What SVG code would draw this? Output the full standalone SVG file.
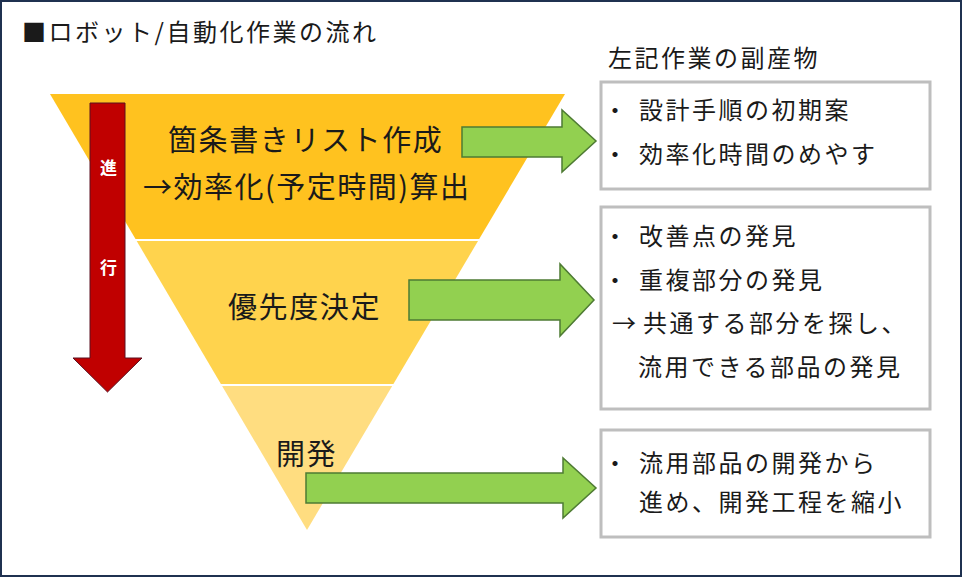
<svg xmlns="http://www.w3.org/2000/svg" width="962" height="577" viewBox="0 0 962 577">
<style>
.jp{font-family:"Noto Sans CJK JP","Noto Sans CJK SC",sans-serif;fill:#1a1a1a}
.t24{font-size:24px;letter-spacing:2.5px}
.t29{font-size:29px;letter-spacing:1.6px}
.box{fill:#fff;stroke:#BEBEBE;stroke-width:3}
.garrow{fill:#92D050;stroke:#4E7B33;stroke-width:1.5;stroke-linejoin:miter}
.wt{font-family:"Noto Sans CJK JP",sans-serif;font-size:17px;font-weight:bold;fill:#fff;text-anchor:middle}
</style>
<rect x="0" y="0" width="962" height="577" fill="#fff"/>
<rect x="1" y="1" width="960" height="575" fill="none" stroke="#1F3150" stroke-width="2"/>

<g id="title">
<text class="jp t24" x="22" y="41">■ロボット/自動化作業の流れ</text>
<text class="jp t24" x="608" y="67">左記作業の副産物</text>
</g>

<g id="band1">
<polygon points="50,94 565,94 479.2,239 135.5,239" fill="#FFC21F"/>
<text class="jp t29" x="168" y="151">箇条書きリスト作成</text>
<text class="jp" style="font-size:29px" x="143" y="198" textLength="326" lengthAdjust="spacing">→効率化(予定時間)算出</text>
</g>
<g id="band2">
<polygon points="136.7,241 478,241 393.4,384 220.9,384" fill="#FFD34D"/>
<text class="jp t29" x="228" y="318">優先度決定</text>
</g>
<g id="band3">
<polygon points="222.1,386 392.2,386 307,530" fill="#FFDD80"/>
<text class="jp t29" x="276" y="465">開発</text>
</g>

<g id="progress">
<polygon points="90,103 125,103 125,358 142,358 107.5,392 73,358 90,358" fill="#C00000" stroke="#5A1020" stroke-width="1"/>
<text class="wt" x="108.5" y="174">進</text>
<text class="wt" x="108.5" y="274">行</text>
</g>

<g id="connectors">
<polygon class="garrow" points="462,127 562,127 562,110 596,141 562,172 562,157 462,157"/>
<polygon class="garrow" points="409,280 560,280 560,264 594,300 560,336 560,320 409,320"/>
<polygon class="garrow" points="306,473 563,473 563,458 596,488 563,518 563,503 306,503"/>
</g>

<g id="box1">
<rect class="box" x="601" y="82" width="329" height="107"/>
<text class="jp t24" y="119"><tspan x="603">・</tspan><tspan x="639">設計手順の初期案</tspan></text>
<text class="jp t24" y="163"><tspan x="603">・</tspan><tspan x="639">効率化時間のめやす</tspan></text>
</g>
<g id="box2">
<rect class="box" x="601" y="207" width="329" height="202"/>
<text class="jp t24" y="245"><tspan x="603">・</tspan><tspan x="639">改善点の発見</tspan></text>
<text class="jp t24" y="289"><tspan x="603">・</tspan><tspan x="639">重複部分の発見</tspan></text>
<text class="jp t24" y="332"><tspan x="612">→</tspan><tspan x="643">共通する部分を探し、</tspan></text>
<text class="jp t24" y="376"><tspan x="638">流用できる部品の発見</tspan></text>
</g>
<g id="box3">
<rect class="box" x="601" y="430" width="329" height="107"/>
<text class="jp t24" y="472"><tspan x="603">・</tspan><tspan x="639">流用部品の開発から</tspan></text>
<text class="jp t24" y="511"><tspan x="639">進め、開発工程を縮小</tspan></text>
</g>
</svg>
